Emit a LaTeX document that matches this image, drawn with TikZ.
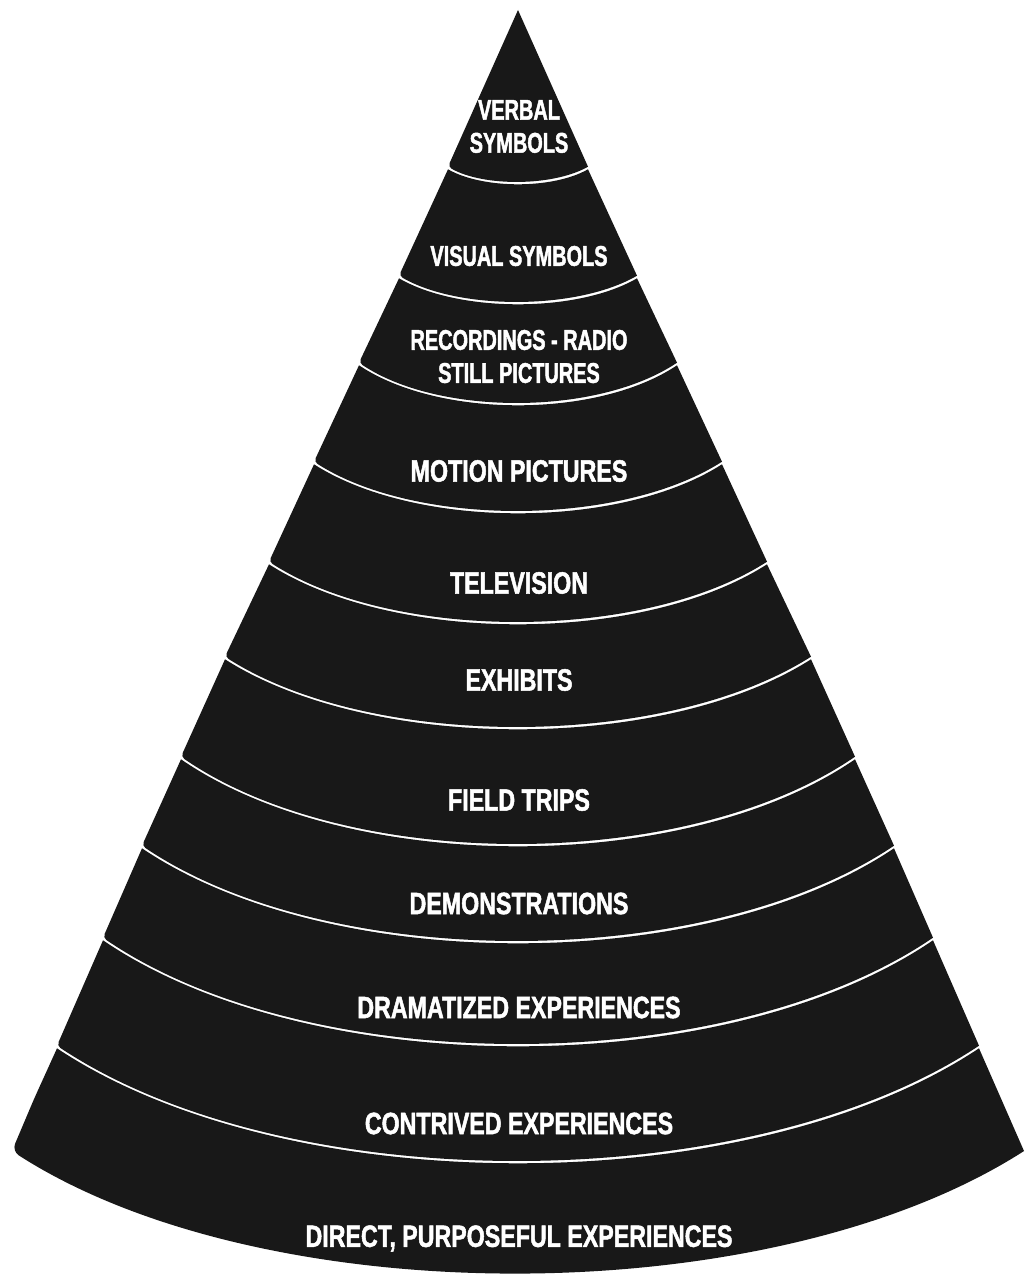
\documentclass[tikz,border=0pt]{standalone}
\usepackage{fontspec}
\newfontfamily\conefont{Liberation Sans}[FakeStretch=0.755, BoldFeatures={FakeBold=1.6}]
\newfontfamily\conetopfont{Liberation Sans}[FakeStretch=0.70, BoldFeatures={FakeBold=1.6}]
\definecolor{conedark}{RGB}{24,24,24}
\tikzset{
    band/.style={fill=conedark},
    conelabel/.style={text=white, inner sep=0pt, align=center, font=\conefont\bfseries\fontsize{17.5}{19}\selectfont},
    toplabel/.style={conelabel, font=\conetopfont\bfseries\fontsize{16.2}{18.8}\selectfont}
}
\begin{document}
\begin{tikzpicture}[x=0.02cm,y=-0.02cm]
    \useasboundingbox (0,0) rectangle (1028,1277);
    % Apex band
    \fill[band] (483,88.3) -- (518,10) -- (588,166.7) [rounded corners=0.8mm] .. controls (553,186.7) and (483,186.7) .. (448,166.7) -- cycle;
    % Middle bands: top edge y / half width / sag, bottom edge y / half width / sag
    \foreach \yt/\wt/\dt/\yb/\wb/\db in {168/70/15/277/119/26, 277/119/26/364/159/40, 364/159/40/463/204/49,
        463/204/49/563/249/60, 563/249/60/658/293/70, 658/293/70/758/337/87, 758/337/87/847/376/95,
        847/376/95/939/415/106, 939/415/106/1047/461/115}
        \fill[band] ({518-(\wt+\wb)/2}, {(\yt+\yb)/2}) -- ({518-\wt}, {\yt+1.3})
            .. controls ({518-\wt/2}, {\yt+1.3+4*\dt/3}) and ({518+\wt/2}, {\yt+1.3+4*\dt/3}) .. ({518+\wt}, {\yt+1.3})
            -- ({518+\wb}, {\yb-1.3}) [rounded corners=0.8mm]
            .. controls ({518+\wb/2}, {\yb-1.3+4*\db/3}) and ({518-\wb/2}, {\yb-1.3+4*\db/3}) .. ({518-\wb}, {\yb-1.3}) -- cycle;
    % Base band
    \fill[band] (34,1099) -- (57,1048.3) .. controls (287.5,1201.6) and (748.5,1201.6) .. (979,1048.3)
        -- (1024,1151) [rounded corners=1.6mm] .. controls (771,1313.7) and (265,1313.7) .. (12,1151) -- cycle;

    % Labels
    \node[toplabel]  (verbal)     at (519,126.5) {VERBAL\\SYMBOLS};
    \node[toplabel]  (visual)     at (519,256)   {VISUAL SYMBOLS};
    \node[toplabel]  (recordings) at (519,356.5) {RECORDINGS - RADIO\\STILL PICTURES};
    \node[conelabel] (motion)     at (519,471)   {MOTION PICTURES};
    \node[conelabel] (tv)         at (519,583)   {TELEVISION};
    \node[conelabel] (exhibits)   at (519,680)   {EXHIBITS};
    \node[conelabel] (trips)      at (519,800)   {FIELD TRIPS};
    \node[conelabel] (demos)      at (519,903.5) {DEMONSTRATIONS};
    \node[conelabel] (dramatized) at (519,1007.5) {DRAMATIZED EXPERIENCES};
    \node[conelabel] (contrived)  at (519,1123.5) {CONTRIVED EXPERIENCES};
    \node[conelabel] (direct)     at (519,1238.5) {DIRECT, PURPOSEFUL EXPERIENCES};
\end{tikzpicture}
\end{document}
